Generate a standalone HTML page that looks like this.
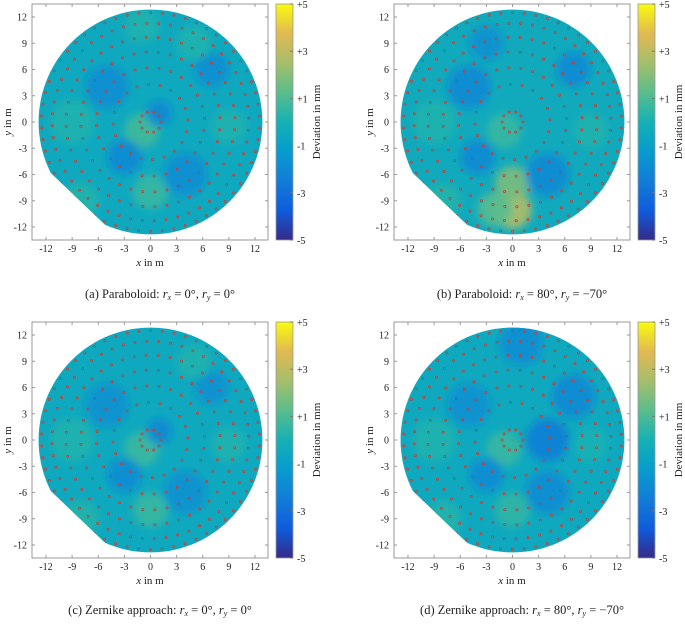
<!DOCTYPE html>
<html><head><meta charset="utf-8"><style>
body{margin:0;background:#fff;width:685px;height:624px;overflow:hidden}
svg{display:block;font-family:"Liberation Serif",serif}
</style></head><body>
<svg id="fig" width="685" height="624" viewBox="0 0 685 624" xmlns="http://www.w3.org/2000/svg">
<defs>
<linearGradient id="parula" x1="0" y1="1" x2="0" y2="0">
<stop offset="0" stop-color="rgb(53,42,135)"/><stop offset="0.125" stop-color="rgb(15,92,221)"/>
<stop offset="0.25" stop-color="rgb(18,125,216)"/><stop offset="0.375" stop-color="rgb(7,156,207)"/>
<stop offset="0.5" stop-color="rgb(21,177,180)"/><stop offset="0.625" stop-color="rgb(89,189,140)"/>
<stop offset="0.75" stop-color="rgb(165,190,107)"/><stop offset="0.875" stop-color="rgb(225,185,82)"/>
<stop offset="1" stop-color="rgb(249,251,14)"/></linearGradient>
<filter id="blur" x="-50%" y="-50%" width="200%" height="200%"><feGaussianBlur stdDeviation="4"/></filter>
</defs>
</svg>
<script>
// data
const xTicks=[-12,-9,-6,-3,0,3,6,9,12];
const yTicks=[-12,-9,-6,-3,0,3,6,9,12];
const cbTicks=[-5,-3,-1,1,3,5];
const cbLabels=["-5","-3","-1","+1","+3","+5"];
const ringRadii=[1.2,4.3,6.2,8.0,9.7,11.3,12.5];
const ringCounts=[10,20,28,36,44,52,58];
const captions=["(a) Paraboloid: ","(b) Paraboloid: ","(c) Zernike approach: ","(d) Zernike approach: "];
const captionRx=["0°","80°","0°","80°"];
const captionRy=["0°","−70°","0°","−70°"];
const baseValue=[-0.5,-0.4,-0.5,-0.5];
// blobs: [x, y, radius(m), value(mm)]
const blobsA=[[-1,-1,2,0.8],[-9,0,2.5,0.2],[0,-8,2,0.6],[9,-0.5,2,0.2],[-5,4,2.5,-1.8],[1,1,1.5,-2],[-3,-4,2,-2],[4,-6,2.5,-1.8],[7,6,2,-1.8],[-1,11,2,0.2],[-8,-9,2,0.3],[5,9,2,0.2]];
const blobsB=[[0,-10,2.2,2.8],[0,-7,2,1.8],[-2,-10,2,1.2],[-1,-1,2,0.6],[-9,0,2.5,0.2],[-5,4,2.5,-2],[-4,-4,2,-2],[4,-6,2.5,-2],[7,6,2,-2],[-3,9,2,-1.7],[9,-1,2,0.2],[-8,-9,2,0.3]];
const blobsC=[[-1,-1,2,0.7],[-9,0,2.5,0.2],[0,-8,2,0.6],[9,-0.5,2,0.2],[-5,4,2.5,-1.7],[1,1,1.5,-2],[-3,-4,2,-1.9],[4,-6,2.5,-1.7],[7,6,2,-1.7],[-8,-9,2,0.3],[5,9,2,0.2]];
const blobsD=[[-1,-1,2,0.6],[-9,0,2.5,0.2],[0,-8,2,0.5],[9,-0.5,2,0],[-5,4,2.5,-1.7],[4,0,2.5,-2.4],[7,5,2.5,-2],[-3,-4,2,-1.9],[4,-6,2.5,-1.9],[1,11,2.5,-1.8],[-8,-9,2,0.3]];
const blobSets=[blobsA,blobsB,blobsC,blobsD];
const panelDx=[0,362,0,362], panelDy=[0,0,318,318], captionY=[298,298,614,614];

const NS="http://www.w3.org/2000/svg";
const svg=document.getElementById('fig');
const stops=[[53,42,135],[15,92,221],[18,125,216],[7,156,207],[21,177,180],[89,189,140],[165,190,107],[225,185,82],[249,251,14]];
function color(v){let t=(v+5)/10;t=Math.max(0,Math.min(1,t))*8;const i=Math.min(7,Math.floor(t)),f=t-i;
 const c=stops[i].map((a,k)=>Math.round(a+(stops[i+1][k]-a)*f));return `rgb(${c})`;}
function mk(tag,attrs,parent){const e=document.createElementNS(NS,tag);for(const k in attrs)e.setAttribute(k,attrs[k]);(parent||svg).appendChild(e);return e;}

for(let p=0;p<4;p++){
 const dx=panelDx[p],dy=panelDy[p];
 const sx=x=>dx+150.5+x*8.71, sy=y=>dy+122-y*8.75;
 const g=mk('g',{});
 
 
 const box=mk('rect',{x:dx+32,y:dy+4,width:236,height:236,fill:'#fff',stroke:'#999','stroke-width':1},g);
 
 
 const cid='clip'+p;const cp=mk('clipPath',{id:cid},g);
 let pts=[];const R=12.85;
 for(let a=0;a<360;a+=3){const rad=a*Math.PI/180;if(a>207&&a<246)continue;pts.push(sx(R*Math.cos(rad)).toFixed(1)+','+sy(R*Math.sin(rad)).toFixed(1));}
 mk('polygon',{points:pts.join(' ')},cp);
 const hm=mk('g',{'clip-path':`url(#${cid})`},g);
 
 
 mk('rect',{x:sx(-13),y:sy(13),width:26*8.71,height:26*8.75,fill:color(baseValue[p])},hm);
 const bg=mk('g',{filter:'url(#blur)'},hm);
 for(const b of blobSets[p]){
  const c=mk('ellipse',{cx:sx(b[0]),cy:sy(b[1]),rx:b[2]*8.71,ry:b[2]*8.75,fill:color(b[3]),opacity:0.9},bg);
  
  
 }
 const mg=mk('g',{fill:'none',stroke:'#c0403a','stroke-width':0.8,'clip-path':`url(#${cid})`},g);
 
 
 ringRadii.forEach((r,i)=>{const n=ringCounts[i];for(let k=0;k<n;k++){const a=(k/n)*2*Math.PI+i*0.37;
  mk('circle',{cx:sx(r*Math.cos(a)),cy:sy(r*Math.sin(a)),r:1.1},mg);}});
 xTicks.forEach((t,i)=>{const x=sx(t);
  mk('line',{x1:x,y1:dy+240,x2:x,y2:dy+237,stroke:'#999'},g);mk('line',{x1:x,y1:dy+4,x2:x,y2:dy+7,stroke:'#999'},g);
  const tx=mk('text',{x:x,y:dy+252,'font-size':10,'text-anchor':'middle',fill:'#222'},g);tx.textContent=t;
  
  });
 yTicks.forEach(t=>{const y=sy(t);
  mk('line',{x1:dx+32,y1:y,x2:dx+35,y2:y,stroke:'#999'},g);mk('line',{x1:dx+268,y1:y,x2:dx+265,y2:y,stroke:'#999'},g);
  const tx=mk('text',{x:dx+27,y:y+3.5,'font-size':10,'text-anchor':'end',fill:'#222'},g);tx.textContent=t;
  
  });
 const xl=mk('text',{x:dx+150,y:dy+266,'font-size':11,'text-anchor':'middle',fill:'#222'},g);
 xl.innerHTML='<tspan font-style="italic">x</tspan> in m';
 
 
 const yl=mk('text',{x:0,y:0,'font-size':11,'text-anchor':'middle',fill:'#222',transform:`translate(${dx+11},${dy+122}) rotate(-90)`},g);
 yl.innerHTML='<tspan font-style="italic">y</tspan> in m';
 
 
 const cb=mk('rect',{x:dx+276,y:dy+4,width:17,height:236,fill:'url(#parula)',stroke:'#999','stroke-width':0.8},g);
 
 
 cbTicks.forEach((t,i)=>{const y=dy+240-(t+5)/10*236;
  mk('line',{x1:dx+290,y1:y,x2:dx+293,y2:y,stroke:'#777'},g);
  const tx=mk('text',{x:dx+297,y:y+4,'font-size':10,fill:'#222'},g);tx.textContent=cbLabels[i];
  
  });
 const cl=mk('text',{x:0,y:0,'font-size':11,'text-anchor':'middle',fill:'#222',transform:`translate(${dx+320},${dy+122}) rotate(-90)`},g);
 cl.textContent='Deviation in mm';
 
 
 const cap=mk('text',{x:dx+160,y:captionY[p],'font-size':12.5,'text-anchor':'middle',fill:'#222'},g);
 cap.innerHTML=captions[p]+'<tspan font-style="italic">r<tspan font-size="8" dy="2">x</tspan></tspan><tspan dy="-2"> = '+captionRx[p]+', </tspan><tspan font-style="italic">r<tspan font-size="8" dy="2">y</tspan></tspan><tspan dy="-2"> = '+captionRy[p]+'</tspan>';
 
 
}
</script>
</body></html>
